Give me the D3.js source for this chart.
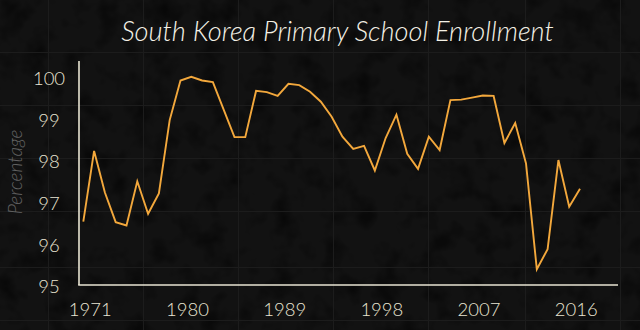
<!DOCTYPE html>
<html>
<head>
<meta charset="utf-8">
<script src="https://cdn.jsdelivr.net/npm/d3@7"></script>
<style>
  html, body { margin: 0; padding: 0; background: #111; }
  svg { display: block; }
</style>
</head>
<body>
<script>
const years = d3.range(1971, 2018);
const enrollment = [
  96.55, 98.25, 97.25, 96.54, 96.46, 97.52, 96.74, 97.23, 98.99, 99.94,
  100.03, 99.94, 99.90, 99.24, 98.58, 98.58, 99.69, 99.66, 99.57, 99.86,
  99.83, 99.67, 99.43, 99.07, 98.59, 98.30, 98.37, 97.78, 98.56, 99.12,
  98.18, 97.82, 98.59, 98.27, 99.47, 99.48, 99.53, 99.58, 99.57, 98.44,
  98.92, 97.95, 95.41, 95.89, 98.03, 96.91, 97.34
];
const xTickYears = [1971, 1980, 1989, 1998, 2007, 2016];
const yTickValues = [95, 96, 97, 98, 99, 100];
const titleText = "South Korea Primary School Enrollment";
const yAxisTitle = "Percentage";

const W = 640, H = 330;
const svg = d3.select("body").append("svg").attr("width", W).attr("height", H);

// background with subtle texture
const defs = svg.append("defs");
const f = defs.append("filter").attr("id", "tex").attr("x", 0).attr("y", 0).attr("width", 1).attr("height", 1);
f.append("feTurbulence").attr("type", "fractalNoise").attr("baseFrequency", 0.04).attr("numOctaves", 3).attr("seed", 4);
f.append("feColorMatrix").attr("type", "matrix")
  .attr("values", "0 0 0 0 0  0 0 0 0 0  0 0 0 0 0  0 0 0 -2.6 1.35");
svg.append("rect").attr("width", W).attr("height", H).attr("fill", "#121212");
svg.append("rect").attr("width", W).attr("height", H).attr("fill", "#000").attr("filter", "url(#tex)").attr("opacity", 0.5);

// faint background grid
const bgGrid = svg.append("g").attr("stroke", "#1c1c1c").attr("stroke-width", 1);
[48, 143, 238, 333, 428, 525, 620].forEach(x =>
  bgGrid.append("line").attr("x1", x + 0.5).attr("x2", x + 0.5).attr("y1", 0).attr("y2", H));
[52, 105, 158, 211, 267, 320].forEach(y =>
  bgGrid.append("line").attr("y1", y + 0.5).attr("y2", y + 0.5).attr("x1", 0).attr("x2", W));

const x = d3.scaleLinear().domain([1971, 2017]).range([83.3, 580]);
const xLab = d3.scaleLinear().domain([1971, 2017]).range([89.8, 586.5]);
const y = d3.scaleLinear().domain([95, 100]).range([286.3, 78]);

const font = "Lato, 'Open Sans', sans-serif";
const cream = "#e9e5d3";

// title
svg.append("text")
  .attr("x", 337.5).attr("y", 41)
  .attr("text-anchor", "middle")
  .attr("fill", "#f4f1e6")
  .attr("font-family", font)
  .attr("font-style", "italic")
  .attr("font-weight", 300)
  .attr("font-size", 27.2)
  .text(titleText);

// y axis title
svg.append("text")
  .attr("transform", "translate(22,172) rotate(-90)")
  .attr("text-anchor", "middle")
  .attr("fill", "#626262")
  .attr("font-family", font)
  .attr("font-style", "italic")
  .attr("font-weight", 300)
  .attr("font-size", 19)
  .text(yAxisTitle);

// y axis labels
const yAxis = d3.axisLeft(y).tickValues(yTickValues).tickSize(0).tickPadding(0).tickFormat(d3.format("d"));
const gy = svg.append("g").attr("transform", "translate(49,0)").call(yAxis);
gy.select(".domain").remove();
gy.selectAll("text").attr("text-anchor", "middle").attr("fill", cream)
  .attr("font-family", font).attr("font-weight", 300).attr("font-size", 18.5).attr("dy", "0.35em");

// x axis labels
const xAxis = d3.axisBottom(xLab).tickValues(xTickYears).tickSize(0).tickPadding(0).tickFormat(d3.format("d"));
const gx = svg.append("g").attr("transform", "translate(0,303)").call(xAxis);
gx.select(".domain").remove();
gx.selectAll("text").attr("fill", cream).attr("font-family", font).attr("font-weight", 300)
  .attr("font-size", 18.5).attr("dy", "0.71em");

// axis lines
svg.append("line").attr("x1", 79).attr("x2", 79).attr("y1", 61).attr("y2", 285)
  .attr("stroke", cream).attr("stroke-width", 1.6);
svg.append("line").attr("x1", 78.2).attr("x2", 618).attr("y1", 285).attr("y2", 285)
  .attr("stroke", cream).attr("stroke-width", 1.6);

// data line
const line = d3.line().x((d, i) => x(years[i])).y(d => y(d));
svg.append("path").datum(enrollment)
  .attr("d", line)
  .attr("fill", "none")
  .attr("stroke", "#f3a83c")
  .attr("stroke-width", 1.9)
  .attr("stroke-linejoin", "miter");
</script>
</body>
</html>
